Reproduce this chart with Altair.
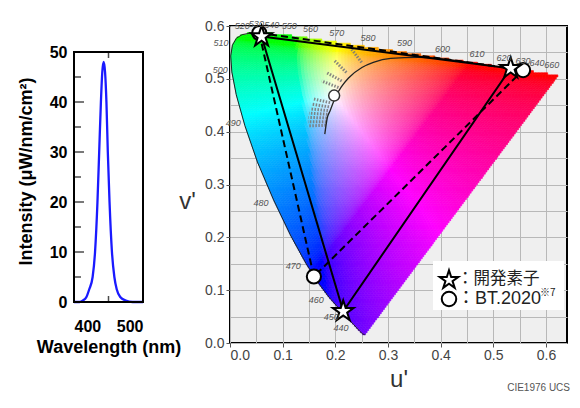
import altair as alt
import pandas as pd
import numpy as np

alt.data_transformers.disable_max_rows()

# ---------------- Left panel: emission spectrum ----------------
wavelength_nm = [400, 408, 413, 418, 422, 427, 430.5, 434, 436.5, 439, 441, 443, 445, 447, 449, 451.5, 455, 458.5, 462, 467, 475, 485, 500]
intensity = [0, 0, 0.3, 1, 2.5, 5, 10, 20, 30, 40, 46, 48, 46, 40, 30, 20, 10, 5, 2.5, 1, 0.3, 0, 0]
left_y_ticks = [0, 10, 20, 30, 40, 50]
left_minor_ticks = [5, 15, 25, 35, 45]
left_major_inner = [10, 20, 30, 40]
left_x_ticks = [400, 500]
left_mid_tick = [450]

# ---------------- Right panel: CIE 1976 UCS ----------------
locus_nm = [380, 400, 420, 430, 440, 450, 460, 465, 470, 475, 480, 485, 490, 495, 500, 505, 510, 515, 520,
            525, 530, 540, 550, 560, 570, 580, 590, 600, 610, 620, 630, 640, 650, 660, 700]
locus_u = [0.2568, 0.2557, 0.2522, 0.2461, 0.2347, 0.2161, 0.1877, 0.1690, 0.1441, 0.1147, 0.0828, 0.0521,
           0.0282, 0.0119, 0.0035, 0.0014, 0.0046, 0.0123, 0.0231, 0.0360, 0.0501, 0.0792, 0.1127, 0.1531,
           0.2026, 0.2623, 0.3315, 0.4035, 0.4692, 0.5203, 0.5565, 0.5830, 0.6005, 0.6109, 0.6234]
locus_v = [0.0166, 0.0159, 0.0169, 0.0226, 0.0350, 0.0549, 0.0871, 0.1119, 0.1510, 0.2044, 0.2708, 0.3427,
           0.4117, 0.4698, 0.5131, 0.5432, 0.5638, 0.5770, 0.5837, 0.5861, 0.5868, 0.5856, 0.5821, 0.5766,
           0.5694, 0.5604, 0.5501, 0.5393, 0.5296, 0.5219, 0.5165, 0.5125, 0.5099, 0.5084, 0.5065]

labels_top = [520, 530, 540, 550, 560, 570, 580, 590, 600, 610, 620, 630, 640, 660]
labels_left = [490, 500, 510]
labels_low = [440, 450, 460, 470, 480]

planck_u = [0.1800, 0.1846, 0.1903, 0.2004, 0.2114, 0.2251, 0.2505, 0.2722, 0.3050, 0.3580, 0.4480]
planck_v = [0.3953, 0.4254, 0.4400, 0.4656, 0.4847, 0.5016, 0.5214, 0.5311, 0.5386, 0.5405, 0.5320]

iso_u1 = [0.250, 0.221, 0.212, 0.206, 0.190, 0.188, 0.186, 0.185, 0.184, 0.183, 0.182]
iso_v1 = [0.531, 0.512, 0.496, 0.4835, 0.455, 0.447, 0.440, 0.433, 0.426, 0.419, 0.412]
iso_u2 = [0.231, 0.199, 0.183, 0.174, 0.158, 0.155, 0.152, 0.150, 0.149, 0.148, 0.148]
iso_v2 = [0.556, 0.534, 0.512, 0.496, 0.462, 0.452, 0.443, 0.435, 0.427, 0.419, 0.411]

white_u = [0.1978]
white_v = [0.4683]

device_u = [0.060, 0.215, 0.533, 0.060]   # G, B, R, G
device_v = [0.580, 0.060, 0.520, 0.580]
bt2020_u = [0.0556, 0.1593, 0.5566, 0.0556]
bt2020_v = [0.5868, 0.1258, 0.5165, 0.5868]

legend_labels = ["：開発素子", "：BT.2020"]

STAR = ("M0,-1L0.2245,-0.309L0.951,-0.309L0.3633,0.118L0.588,0.809L0,0.382L-0.588,0.809"
        "L-0.3633,0.118L-0.951,-0.309L-0.2245,-0.309Z")

# ---------- colour raster of the diagram (background image) ----------
M = np.array([[3.2406, -1.5372, -0.4986],
              [-0.9689, 1.8758, 0.0415],
              [0.0557, -0.2040, 1.0570]])


def uv_color(u, v):
    d = 6 * u - 16 * v + 12
    x = 9 * u / d
    y = 4 * v / d
    X = x / y
    Z = (1 - x - y) / y
    rgb = M @ np.array([X, 1.0, Z])
    rgb = np.clip(rgb, 0, None)
    rgb = rgb / max(rgb.max(), 1e-9)
    rgb = np.where(rgb <= 0.0031308, 12.92 * rgb, 1.055 * np.power(rgb, 1 / 2.4) - 0.055)
    r, g, b = [int(round(float(c) * 255)) for c in np.clip(rgb, 0, 1)]
    return f"#{r:02x}{g:02x}{b:02x}"


poly_u = locus_u + [locus_u[0]]
poly_v = locus_v + [locus_v[0]]
cells = []
dv = 0.004
du = 0.006
v0 = 0.0155
while v0 < 0.5875:
    vc = v0 + dv / 2
    xs = []
    for i in range(len(poly_u) - 1):
        ua, va, ub, vb = poly_u[i], poly_v[i], poly_u[i + 1], poly_v[i + 1]
        if (va - vc) * (vb - vc) < 0:
            xs.append(ua + (vc - va) * (ub - ua) / (vb - va))
    if len(xs) >= 2:
        uL, uR = min(xs), max(xs)
        u = uL
        while u < uR - 1e-9:
            u1 = min(u + du, uR)
            cells.append({"u0": round(u, 5), "u1": round(u1, 5), "v0": round(v0, 5),
                          "v1": round(v0 + dv, 5), "c": uv_color((u + u1) / 2, vc)})
            u = u1
    v0 += dv
cells_df = pd.DataFrame(cells)

# ---------------- scales / axes ----------------
sx = alt.Scale(domain=[0, 0.64], nice=False, zero=False)
sy = alt.Scale(domain=[0, 0.6], nice=False, zero=False)
grid_vals = [round(i * 0.05, 2) for i in range(13)]
lab_expr = "abs(datum.value*10 - round(datum.value*10)) < 0.01 ? format(datum.value, '.1f') : ''"
tick_op = {"condition": {"test": "abs(datum.value*10 - round(datum.value*10)) > 0.01", "value": 0}, "value": 1}

ax_x = alt.Axis(values=grid_vals, labelExpr=lab_expr, grid=True, gridColor="#b8b8b8", gridWidth=1,
                domain=False, tickSize=4, tickColor="#555", tickOpacity=tick_op,
                labelFont="Liberation Sans", labelFontSize=14, labelColor="#444", labelPadding=1,
                title="u'", titleFont="Liberation Sans", titleFontSize=24, titleFontWeight="normal",
                titleColor="#333", titleBaseline="alphabetic", titleY=43)
ax_y = alt.Axis(values=grid_vals, labelExpr=lab_expr, grid=True, gridColor="#b8b8b8", gridWidth=1,
                domain=False, tickSize=4, tickColor="#555", tickOpacity=tick_op,
                labelFont="Liberation Sans", labelFontSize=14, labelColor="#444", labelPadding=2,
                title="v'", titleFont="Liberation Sans", titleFontSize=24, titleFontWeight="normal",
                titleColor="#333", titleAngle=0, titleAlign="center", titleBaseline="alphabetic",
                titleX=-43, titleY=182)


def X(f):
    return alt.X(f, type="quantitative", scale=sx, axis=ax_x)


def Y(f):
    return alt.Y(f, type="quantitative", scale=sy, axis=ax_y)


raster = alt.Chart(cells_df).mark_rect(strokeWidth=0.6).encode(
    x=X("u0"), x2="u1", y=Y("v0"), y2="v1",
    fill=alt.Fill("c:N", scale=None), stroke=alt.Stroke("c:N", scale=None))

locus_df = pd.DataFrame({"nm": locus_nm, "u": locus_u, "v": locus_v})
edge = alt.Chart(locus_df).transform_filter("datum.nm <= 530").mark_line(
    color="#222", strokeWidth=1).encode(x=X("u"), y=Y("v"), order="nm:Q")

planck_df = pd.DataFrame({"u": planck_u, "v": planck_v})
planck = alt.Chart(planck_df).mark_line(color="#222", strokeWidth=1.3, interpolate="monotone").encode(
    x=X("u"), y=Y("v"))

iso_df = pd.DataFrame({"u1": iso_u1, "v1": iso_v1, "u2": iso_u2, "v2": iso_v2})
iso = alt.Chart(iso_df).mark_rule(color="#7a7a7a", strokeWidth=3, strokeDash=[1.5, 1.5], opacity=0.9).encode(
    x=X("u1"), y=Y("v1"), x2="u2", y2="v2")

white_df = pd.DataFrame({"u": white_u, "v": white_v})
white_pt = alt.Chart(white_df).mark_point(shape="circle", filled=True, fill="white", stroke="#333",
                                          strokeWidth=1.5, size=120, opacity=1).encode(x=X("u"), y=Y("v"))

dev_df = pd.DataFrame({"u": device_u, "v": device_v, "o": [0, 1, 2, 3]})
bt_df = pd.DataFrame({"u": bt2020_u, "v": bt2020_v, "o": [0, 1, 2, 3]})
dev_line = alt.Chart(dev_df).mark_line(color="black", strokeWidth=2).encode(
    x=X("u"), y=Y("v"), order="o:Q")
bt_line = alt.Chart(bt_df).mark_line(color="black", strokeWidth=2, strokeDash=[7, 4]).encode(
    x=X("u"), y=Y("v"), order="o:Q")
bt_pts = alt.Chart(bt_df.iloc[:3]).mark_point(shape="circle", filled=True, fill="white", stroke="black",
                                             strokeWidth=2, size=200, opacity=1).encode(x=X("u"), y=Y("v"))
dev_pts = alt.Chart(dev_df.iloc[:3]).mark_point(shape=STAR, filled=True, fill="white", stroke="black",
                                               strokeWidth=2, size=480, opacity=1).encode(x=X("u"), y=Y("v"))

lab_style = dict(fontSize=9, color="#555", fontStyle="italic", font="Liberation Sans")
top_lab = alt.Chart(locus_df).transform_filter(
    alt.FieldOneOfPredicate(field="nm", oneOf=labels_top)).mark_text(
    dy=-9, align="center", **lab_style).encode(x=X("u"), y=Y("v"), text="nm:Q")
left_lab = alt.Chart(locus_df).transform_filter(
    alt.FieldOneOfPredicate(field="nm", oneOf=labels_left)).mark_text(
    dx=-4, dy=-2, align="right", **lab_style).encode(x=X("u"), y=Y("v"), text="nm:Q")
low_lab = alt.Chart(locus_df).transform_filter(
    alt.FieldOneOfPredicate(field="nm", oneOf=labels_low)).mark_text(
    dx=-5, dy=3, align="right", **lab_style).encode(x=X("u"), y=Y("v"), text="nm:Q")

# legend box and caption (annotations)
one = pd.DataFrame({"k": [0]})
leg_box = alt.Chart(one).mark_rect(fill="white").encode(
    x=alt.value(203), x2=alt.value(334), y=alt.value(235), y2=alt.value(284))
leg_star = alt.Chart(one).mark_point(
    shape=STAR, filled=True, fill="white", stroke="black", strokeWidth=2, size=380, opacity=1).encode(
    x=alt.value(219), y=alt.value(254))
leg_circ = alt.Chart(one).mark_point(
    shape="circle", filled=True, fill="white", stroke="black", strokeWidth=2, size=210, opacity=1).encode(
    x=alt.value(219), y=alt.value(273))
leg_df = pd.DataFrame({"t": legend_labels, "r": [0, 1]})
leg_t1 = alt.Chart(leg_df.iloc[[0]]).mark_text(
    align="left", baseline="middle", fontSize=16.5, font="Noto Sans CJK JP", color="#222").encode(
    x=alt.value(227), y=alt.value(253), text="t:N")
leg_t2 = alt.Chart(leg_df.iloc[[1]]).mark_text(
    align="left", baseline="middle", fontSize=18, font="Liberation Sans, Noto Sans CJK JP", color="#222").encode(
    x=alt.value(227), y=alt.value(273), text="t:N")
leg_sup = alt.Chart(pd.DataFrame({"t": ["※7"]})).mark_text(
    align="left", baseline="middle", fontSize=10, font="Noto Sans CJK JP", color="#222").encode(
    x=alt.value(310), y=alt.value(267), text="t:N")
caption = alt.Chart(pd.DataFrame({"t": ["CIE1976 UCS"]})).mark_text(
    align="right", baseline="middle", fontSize=10, font="Liberation Sans", color="#555").encode(
    x=alt.value(340), y=alt.value(362), text="t:N")

right = alt.layer(raster, edge, iso, planck, white_pt, dev_line, bt_line, bt_pts, dev_pts,
                  top_lab, left_lab, low_lab, leg_box, leg_star, leg_circ, leg_t1, leg_t2, leg_sup,
                  caption).properties(
    width=337, height=317,
    view=alt.ViewBackground(fill="#efefef", stroke="black", strokeWidth=2))

# ---------------- left chart ----------------
spec_df = pd.DataFrame({"wl": wavelength_nm, "i": intensity})
lx = alt.Scale(domain=[400, 500], nice=False, zero=False)
ly = alt.Scale(domain=[0, 50], nice=False, range=[276, 26])
lax_x = alt.Axis(values=left_x_ticks, ticks=False, domain=False, grid=False, labelFont="Liberation Sans",
                 labelFontSize=16, labelFontWeight="bold", labelColor="black", labelPadding=16,
                 title="Wavelength (nm)", titleFont="Liberation Sans", titleFontSize=18,
                 titleFontWeight="bold", titleColor="black", titlePadding=4)
lax_y = alt.Axis(values=left_y_ticks, ticks=False, domain=False, grid=False, labelFont="Liberation Sans",
                 labelFontSize=16, labelFontWeight="bold", labelColor="black", labelPadding=7,
                 title="Intensity (μW/nm/cm²)", titleFont="Liberation Sans", titleFontSize=18,
                 titleFontWeight="bold", titleColor="black", titlePadding=14, titleY=145)

frame = alt.Chart(one).mark_rect(fillOpacity=0, stroke="black", strokeWidth=2).encode(
    x=alt.value(0), x2=alt.value(69), y=alt.value(26), y2=alt.value(276))
spec_line = alt.Chart(spec_df).mark_line(color="#1a1aff", strokeWidth=2.3, interpolate="monotone").encode(
    x=alt.X("wl:Q", scale=lx, axis=lax_x), y=alt.Y("i:Q", scale=ly, axis=lax_y))
tick_minor = alt.Chart(pd.DataFrame({"t": left_minor_ticks})).mark_tick(
    color="black", size=7, thickness=1.5).encode(y=alt.Y("t:Q", scale=ly, axis=lax_y), x=alt.value(3.5))
tick_major = alt.Chart(pd.DataFrame({"t": left_major_inner})).mark_tick(
    color="black", size=10, thickness=1.5).encode(y=alt.Y("t:Q", scale=ly, axis=lax_y), x=alt.value(5))
tick_bot = alt.Chart(pd.DataFrame({"t": left_mid_tick})).mark_tick(
    color="black", size=6, thickness=1.5).encode(x=alt.X("t:Q", scale=lx, axis=lax_x), y=alt.value(273))
tick_top = alt.Chart(pd.DataFrame({"t": left_mid_tick})).mark_tick(
    color="black", size=6, thickness=1.5).encode(x=alt.X("t:Q", scale=lx, axis=lax_x), y=alt.value(29))

left = alt.layer(spec_line, frame, tick_minor, tick_major, tick_bot, tick_top).properties(
    width=69, height=276)

chart = alt.hconcat(left, right, spacing=87, bounds="flush").properties(
    padding={"left": 9, "top": 10, "right": 0, "bottom": 0},
    background="white").configure_view(stroke=None)

chart.save("out.html", embed_options={"renderer": "svg", "actions": False})
